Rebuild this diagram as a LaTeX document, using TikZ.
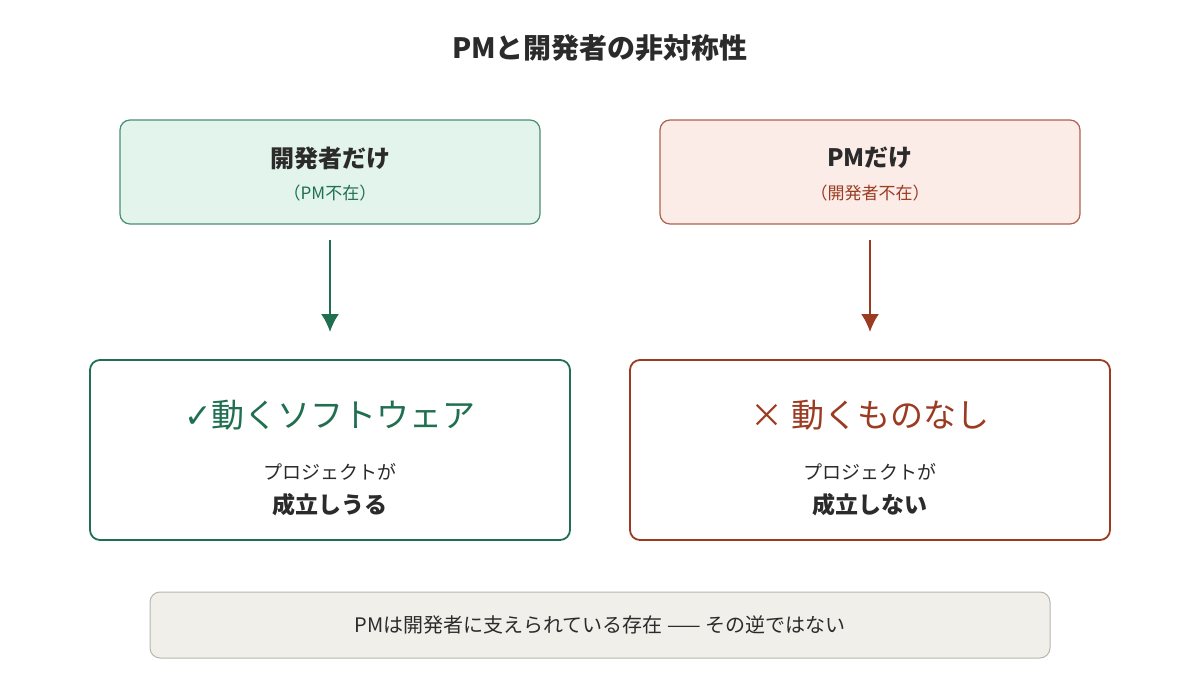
\documentclass[tikz,border=0pt]{standalone}
\usepackage{fontspec}
\setmainfont{Noto Sans CJK JP}
\newfontfamily\symfont{DejaVu Sans}
\usetikzlibrary{positioning,arrows.meta}
\definecolor{devgreen}{HTML}{1F6F50}
\definecolor{devfill}{HTML}{E3F4EC}
\definecolor{pmred}{HTML}{9A3B22}
\definecolor{pmfill}{HTML}{FBECE7}
\definecolor{notefill}{HTML}{F0EFEA}
\definecolor{notedraw}{HTML}{B8B5AC}
\definecolor{ink}{HTML}{2B2B2B}
\begin{document}
\begin{tikzpicture}[x=0.5pt,y=-0.5pt,
top/.style={draw,rounded corners=5pt,line width=0.6pt,minimum width=210pt,minimum height=52pt,align=center},
res/.style={draw,rounded corners=5pt,line width=0.9pt,fill=white,minimum width=240pt,minimum height=90pt,align=center},
arr/.style={line width=1pt,-{Latex[length=9pt,width=9pt]}}]
\useasboundingbox (0,0) rectangle (1200,690);
\node (title) at (600,48) {\fontsize{14}{16}\selectfont\bfseries\color{ink} PMと開発者の非対称性};
% top row
\node (devonly) [top,draw=devgreen!80,fill=devfill] at (330,172) {};
\node at (330,158) {\fontsize{12}{14}\selectfont\bfseries\color{ink} 開発者だけ};
\node at (330,193) {\fontsize{8.5}{10}\selectfont\color{devgreen} （PM不在）};
\node (pmonly) [top,draw=pmred!80,fill=pmfill] at (870,172) {};
\node at (870,158) {\fontsize{12}{14}\selectfont\bfseries\color{ink} PMだけ};
\node at (870,193) {\fontsize{8.5}{10}\selectfont\color{pmred} （開発者不在）};
% results
\node (devres) [res,draw=devgreen] at (330,450) {};
\node at (330,415) {\fontsize{16.5}{19}\selectfont\color{devgreen}{\symfont ✓}動くソフトウェア};
\node at (330,472) {\fontsize{9.5}{11}\selectfont\color{ink} プロジェクトが};
\node at (330,505) {\fontsize{11.5}{13}\selectfont\bfseries\color{ink} 成立しうる};
\node (pmres) [res,draw=pmred] at (870,450) {};
\node at (870,415) {\fontsize{16.5}{19}\selectfont\color{pmred}× 動くものなし};
\node at (870,472) {\fontsize{9.5}{11}\selectfont\color{ink} プロジェクトが};
\node at (870,505) {\fontsize{11.5}{13}\selectfont\bfseries\color{ink} 成立しない};
% arrows
\coordinate (a1) at (330,240);
\coordinate (b1) at (330,332);
\coordinate (a2) at (870,240);
\coordinate (b2) at (870,332);
\draw[arr,devgreen] (a1) -- (b1);
\draw[arr,pmred] (a2) -- (b2);
% note
\node (note) [draw=notedraw,fill=notefill,rounded corners=5pt,line width=0.5pt,minimum width=450pt,minimum height=33pt] at (600,625)
  {\fontsize{10}{12}\selectfont\color{ink} PMは開発者に支えられている存在 —— その逆ではない};
\end{tikzpicture}
\end{document}
